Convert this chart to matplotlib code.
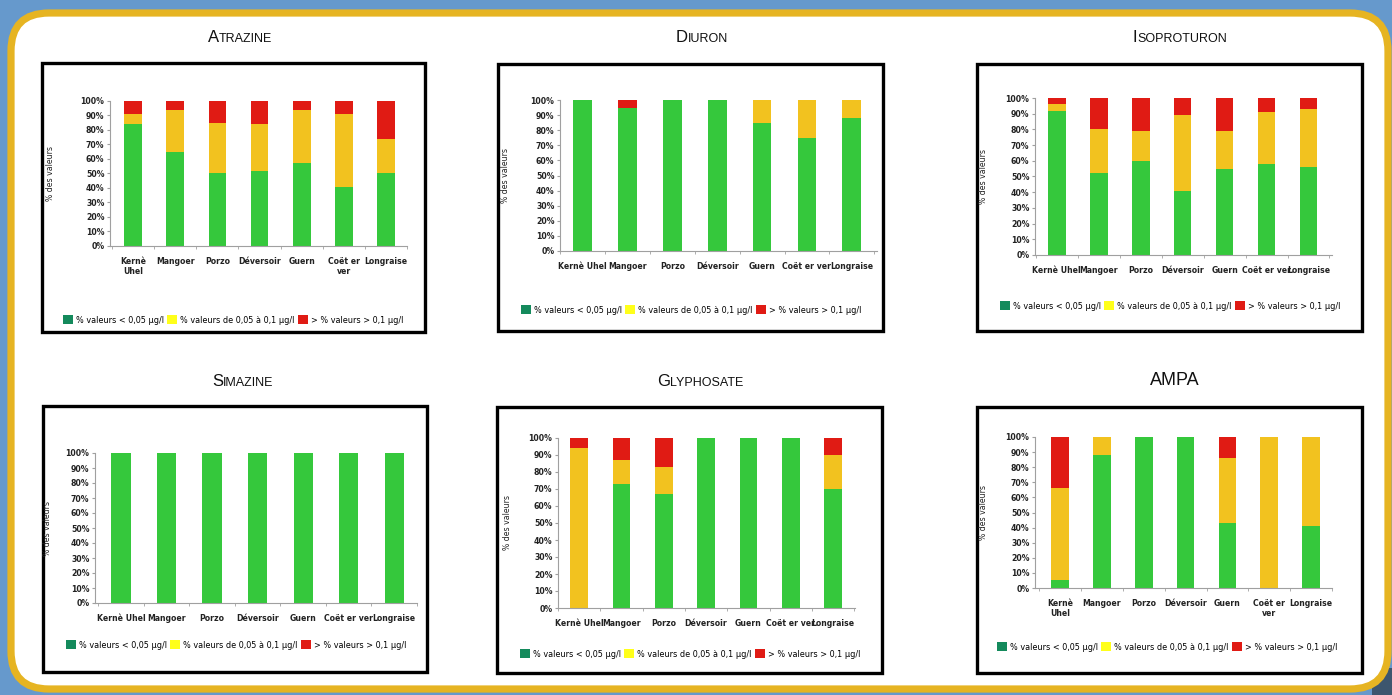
import numpy as np
import matplotlib
matplotlib.use("Agg")
import matplotlib.pyplot as plt
from matplotlib import font_manager
from matplotlib.patches import FancyBboxPatch, Rectangle, Patch
from matplotlib.offsetbox import TextArea, HPacker, AnnotationBbox

### data
sites = ["Kernè Uhel", "Mangoer", "Porzo", "Déversoir", "Guern", "Coët er ver", "Longraise"]
sites_wrapped = ["Kernè\nUhel", "Mangoer", "Porzo", "Déversoir", "Guern", "Coët er\nver", "Longraise"]

series_labels = ["% valeurs < 0,05 µg/l", "% valeurs de 0,05 à 0,1 µg/l", "> % valeurs > 0,1 µg/l"]

atrazine_low = [84, 65, 50, 52, 57, 41, 50]
atrazine_mid = [7, 29, 35, 32, 37, 50, 24]
atrazine_high = [9, 6, 15, 16, 6, 9, 26]

diuron_low = [100, 95, 100, 100, 85, 75, 88]
diuron_mid = [0, 0, 0, 0, 15, 25, 12]
diuron_high = [0, 5, 0, 0, 0, 0, 0]

isoproturon_low = [92, 52, 60, 41, 55, 58, 56]
isoproturon_mid = [4, 28, 19, 48, 24, 33, 37]
isoproturon_high = [4, 20, 21, 11, 21, 9, 7]

simazine_low = [100, 100, 100, 100, 100, 100, 100]
simazine_mid = [0, 0, 0, 0, 0, 0, 0]
simazine_high = [0, 0, 0, 0, 0, 0, 0]

glyphosate_low = [0, 73, 67, 100, 100, 100, 70]
glyphosate_mid = [94, 14, 16, 0, 0, 0, 20]
glyphosate_high = [6, 13, 17, 0, 0, 0, 10]

ampa_low = [5, 88, 100, 100, 43, 0, 41]
ampa_mid = [61, 12, 0, 0, 43, 100, 59]
ampa_high = [34, 0, 0, 0, 14, 0, 0]

### look
W, H = 1392, 695
BAR_COLORS = ["#35c83c", "#f2c21f", "#e01b14"]
LEGEND_COLORS = ["#148a5c", "#ffff1a", "#e01b14"]

# pick a narrow face if there is one, otherwise shrink the text
_faces = {(f.name, f.stretch) for f in font_manager.fontManager.ttflist}
_names = {n for n, _ in _faces}
if "Liberation Sans Narrow" in _names:
    NARROW = dict(family=["Liberation Sans Narrow", "DejaVu Sans"])
    TICK_SIZE, LEG_SIZE = 7, 7.5
elif any(n == "DejaVu Sans" and s in ("condensed", 300, 400) for n, s in _faces):
    NARROW = dict(family=["DejaVu Sans"], stretch="condensed")
    TICK_SIZE, LEG_SIZE = 6.2, 6.5
else:
    NARROW = dict(family=["Lato", "DejaVu Sans"])
    TICK_SIZE, LEG_SIZE = 6.0, 6.5

# box (l, t, r, b), axes (l, t, r, b), xlim, title xy, legend xy, ylabel x   -- all in pixels
panels = [
    dict(name="Atrazine", smallcaps=True, low=atrazine_low, mid=atrazine_mid, high=atrazine_high,
         labels=sites_wrapped, box=(42, 63, 425, 332), ax=(110, 101, 407, 246), xlim=(-0.55, 6.5),
         title=(240, 38), legend=(233, 320), ylab=55),
    dict(name="Diuron", smallcaps=True, low=diuron_low, mid=diuron_mid, high=diuron_high,
         labels=sites, box=(498, 64, 883, 331), ax=(560, 100, 877, 251), xlim=(-0.49, 6.56),
         title=(702, 37), legend=(691, 310), ylab=510),
    dict(name="Isoproturon", smallcaps=True, low=isoproturon_low, mid=isoproturon_mid, high=isoproturon_high,
         labels=sites, box=(977, 64, 1362, 331), ax=(1035, 98, 1332, 255), xlim=(-0.52, 6.56),
         title=(1180, 37), legend=(1170, 306), ylab=988),
    dict(name="Simazine", smallcaps=True, low=simazine_low, mid=simazine_mid, high=simazine_high,
         labels=sites, box=(43, 406, 427, 672), ax=(95, 453, 417, 603), xlim=(-0.57, 6.5),
         title=(243, 382), legend=(236, 645), ylab=52),
    dict(name="Glyphosate", smallcaps=True, low=glyphosate_low, mid=glyphosate_mid, high=glyphosate_high,
         labels=sites, box=(497, 407, 882, 673), ax=(558, 438, 855, 608), xlim=(-0.5, 6.52),
         title=(700, 382), legend=(690, 654), ylab=512),
    dict(name="AMPA", smallcaps=False, low=ampa_low, mid=ampa_mid, high=ampa_high,
         labels=sites_wrapped, box=(977, 407, 1362, 673), ax=(1035, 437, 1332, 588), xlim=(-0.6, 6.48),
         title=(1175, 381), legend=(1167, 647), ylab=988),
]


def fig_rect(l, t, r, b):
    return [l / W, 1 - b / H, (r - l) / W, (b - t) / H]


def add_title(fig, text, x, y, smallcaps):
    props = dict(family="Liberation Sans", color="#111")
    if smallcaps:
        first = TextArea(text[0].upper(), textprops=dict(fontsize=12, **props))
        rest = TextArea(text[1:].upper(), textprops=dict(fontsize=9, **props))
        box = HPacker(children=[first, rest], align="baseline", pad=0, sep=0)
    else:
        box = TextArea(text, textprops=dict(fontsize=13, **props))
    ab = AnnotationBbox(box, (x / W, 1 - y / H), xycoords="figure fraction",
                        frameon=False, box_alignment=(0.5, 0.5))
    fig.add_artist(ab)


def draw_panel(fig, p):
    ax = fig.add_axes(fig_rect(*p["ax"]))
    x = np.arange(len(p["labels"]))
    low = np.array(p["low"])
    mid = np.array(p["mid"])
    high = np.array(p["high"])
    ax.bar(x, low, width=0.42, color=BAR_COLORS[0], linewidth=0)
    ax.bar(x, mid, bottom=low, width=0.42, color=BAR_COLORS[1], linewidth=0)
    ax.bar(x, high, bottom=low + mid, width=0.42, color=BAR_COLORS[2], linewidth=0)

    ax.set_xlim(*p["xlim"])
    ax.set_ylim(0, 100)
    ax.set_yticks(range(0, 101, 10))
    ax.set_yticklabels([f"{v}%" for v in range(0, 101, 10)])
    ax.set_xticks(x)
    ax.set_xticklabels(p["labels"], linespacing=1.1)
    ax.set_xticks(np.arange(-0.5, len(x)), minor=True)
    for s in ["top", "right"]:
        ax.spines[s].set_visible(False)
    for s in ["left", "bottom"]:
        ax.spines[s].set_color("#a0a0a0")
        ax.spines[s].set_linewidth(0.8)
    ax.tick_params(axis="y", labelsize=TICK_SIZE, length=2, color="#a0a0a0", pad=2)
    ax.tick_params(axis="x", which="major", labelsize=TICK_SIZE, length=0, pad=8)
    ax.tick_params(axis="x", which="minor", length=2.5, color="#a0a0a0")
    for lab in ax.get_xticklabels() + ax.get_yticklabels():
        lab.set_fontproperties(font_manager.FontProperties(size=TICK_SIZE, weight="bold", **NARROW))
        lab.set_color("#222")

    l, t, r, b = p["ax"]
    ax.set_ylabel("% des valeurs", color="#222",
                  fontproperties=font_manager.FontProperties(size=TICK_SIZE, **NARROW))
    ax.yaxis.set_label_coords((p["ylab"] - l) / (r - l), 0.5)

    handles = [Patch(facecolor=c, edgecolor="none") for c in LEGEND_COLORS]
    lx, ly = p["legend"]
    fig.legend(handles, series_labels, loc="center", bbox_to_anchor=(lx / W, 1 - ly / H),
               ncol=3, frameon=False, handlelength=1.1, handleheight=1.1,
               handletextpad=0.3, columnspacing=0.4, borderaxespad=0,
               prop=font_manager.FontProperties(size=LEG_SIZE, **NARROW))
    add_title(fig, p["name"], *p["title"], p["smallcaps"])


def main():
    fig = plt.figure(figsize=(W / 100, H / 100), dpi=100)
    fig.patch.set_facecolor("#6699cc")

    # background frame in pixel units
    bg = fig.add_axes([0, 0, 1, 1])
    bg.set_xlim(0, W)
    bg.set_ylim(H, 0)
    bg.axis("off")
    bg.add_patch(Rectangle((1372, 668), 20, 27, facecolor="#3d566e", edgecolor="none"))
    bg.add_patch(FancyBboxPatch((11, 13), 1377, 676, boxstyle="round,pad=0,rounding_size=38",
                                facecolor="white", edgecolor="#e6b422", linewidth=5.2))
    for p in panels:
        l, t, r, b = p["box"]
        bg.add_patch(Rectangle((l, t), r - l, b - t, facecolor="white",
                               edgecolor="black", linewidth=2.4))

    for p in panels:
        draw_panel(fig, p)

    fig.savefig("out.png", dpi=100, facecolor=fig.get_facecolor())


if __name__ == "__main__":
    main()
